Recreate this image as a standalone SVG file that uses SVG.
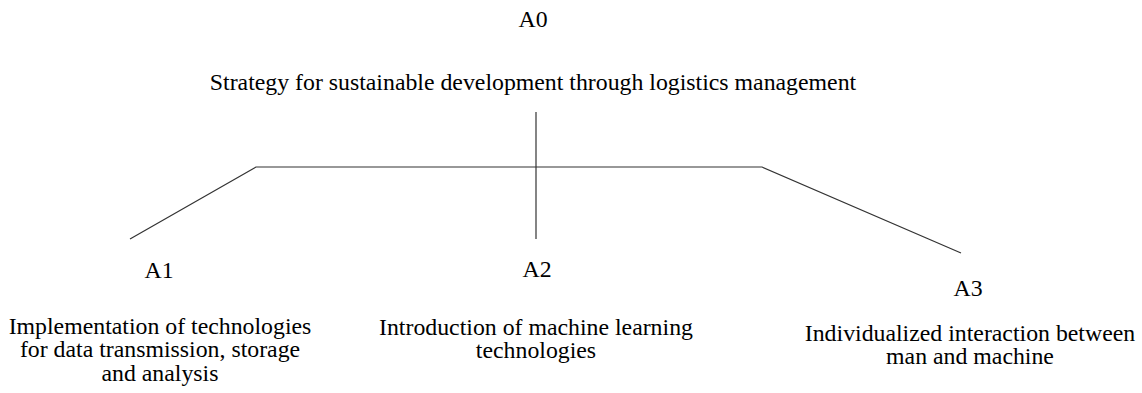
<svg xmlns="http://www.w3.org/2000/svg" width="1142" height="393" viewBox="0 0 1142 393">
<style>
text{font-family:"Liberation Serif","Times New Roman",serif;font-size:23.8px;fill:#000;text-anchor:middle}
.c{stroke:#333;stroke-width:1.2;fill:none}
</style>
<rect width="1142" height="393" fill="#fff"/>
<g id="connectors">
<line class="c" x1="536" y1="112" x2="536" y2="239"/>
<polyline class="c" points="130,239 256,167 762,167 961,253"/>
</g>
<g id="A0">
<text x="533" y="27">A0</text>
<text x="533" y="90">Strategy for sustainable development through logistics management</text>
</g>
<g id="A1">
<text x="159" y="278">A1</text>
<text x="160" y="334">Implementation of technologies</text>
<text x="160" y="357">for data transmission, storage</text>
<text x="160" y="381">and analysis</text>
</g>
<g id="A2">
<text x="537" y="277">A2</text>
<text x="536" y="335">Introduction of machine learning</text>
<text x="536" y="358">technologies</text>
</g>
<g id="A3">
<text x="968" y="296">A3</text>
<text x="970" y="341">Individualized interaction between</text>
<text x="970" y="364">man and machine</text>
</g>
</svg>
